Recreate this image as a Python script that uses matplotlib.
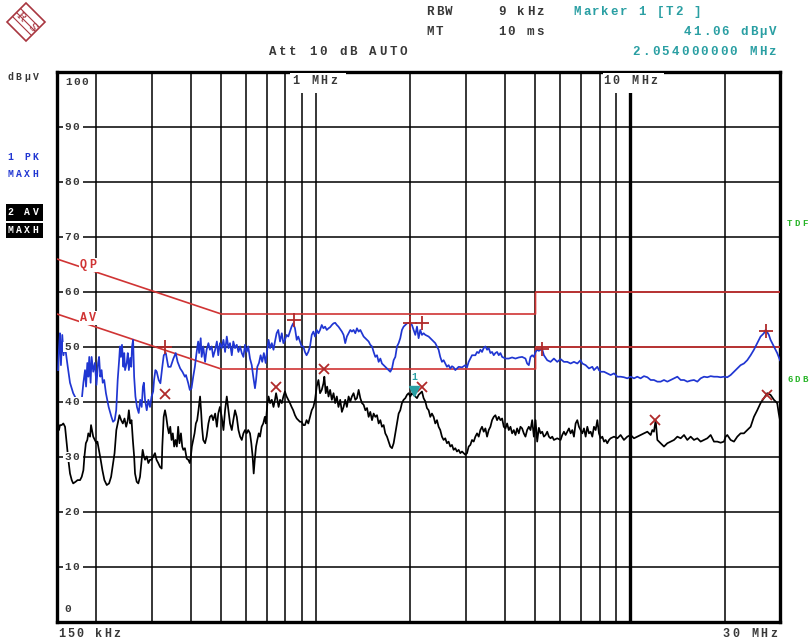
#!/usr/bin/env python3
"""Conducted emission scan 150 kHz - 30 MHz, peak and average traces with CISPR limits."""

import matplotlib
matplotlib.use("Agg")
import matplotlib.pyplot as plt
from matplotlib.patches import Polygon, Rectangle
from matplotlib.transforms import offset_copy

W, H = 811, 642

# trace 1: peak detector, max hold  (MHz, dBuV)
PK_TRACE = [
    (0.1512, 45.8), (0.1522, 49.5), (0.1533, 52.5), (0.1544, 46.7), (0.1559, 52.2), (0.1573, 48.5),
    (0.1591, 50.1), (0.1623, 46.4), (0.1650, 43.5), (0.1689, 41.6), (0.1731, 40.4), (0.1776, 39.8),
    (0.1798, 40.4), (0.1820, 43.5), (0.1842, 45.8), (0.1856, 42.8), (0.1873, 47.1), (0.1887, 44.6),
    (0.1900, 48.2), (0.1919, 43.5), (0.1933, 48.2), (0.1956, 45.5), (0.1980, 47.1), (0.2003, 43.1),
    (0.2027, 47.1), (0.2042, 48.2), (0.2060, 44.6), (0.2080, 45.8), (0.2097, 43.5), (0.2120, 44.0),
    (0.2147, 41.6), (0.2190, 39.1), (0.2235, 37.3), (0.2262, 36.4), (0.2290, 36.7), (0.2315, 38.5),
    (0.2340, 44.0), (0.2365, 47.6), (0.2380, 50.1), (0.2396, 48.2), (0.2415, 50.4), (0.2440, 46.4),
    (0.2455, 48.9), (0.2470, 45.8), (0.2500, 47.1), (0.2520, 48.9), (0.2540, 45.8), (0.2565, 48.0),
    (0.2585, 46.4), (0.2600, 50.1), (0.2620, 51.3), (0.2640, 44.6), (0.2665, 41.0), (0.2695, 39.1),
    (0.2730, 38.0), (0.2760, 40.4), (0.2790, 39.1), (0.2815, 42.8), (0.2835, 43.5), (0.2859, 40.4),
    (0.2895, 38.5), (0.2930, 40.4), (0.2965, 39.1), (0.3000, 41.0), (0.3035, 41.9), (0.3055, 44.0),
    (0.3085, 45.8), (0.3115, 45.5), (0.3160, 44.0), (0.3200, 43.4), (0.3245, 46.4), (0.3280, 48.5),
    (0.3330, 48.9), (0.3390, 46.4), (0.3450, 46.4), (0.3520, 47.9), (0.3580, 48.9), (0.3630, 47.3),
    (0.3700, 46.1), (0.3760, 45.5), (0.3830, 44.6), (0.3860, 44.9), (0.3925, 43.4), (0.3970, 42.2),
    (0.4020, 42.5), (0.4070, 44.6), (0.4120, 46.4), (0.4170, 48.9), (0.4220, 51.0), (0.4250, 48.9),
    (0.4300, 51.6), (0.4330, 48.2), (0.4380, 50.1), (0.4440, 47.3), (0.4490, 49.5), (0.4550, 50.7),
    (0.4600, 49.5), (0.4660, 50.1), (0.4710, 48.2), (0.4780, 49.5), (0.4840, 51.0), (0.4890, 48.5),
    (0.4950, 50.7), (0.5015, 49.8), (0.5080, 51.3), (0.5140, 49.1), (0.5205, 51.9), (0.5270, 49.8),
    (0.5330, 50.7), (0.5400, 48.5), (0.5460, 51.0), (0.5530, 49.8), (0.5600, 50.4), (0.5670, 49.1),
    (0.5740, 50.1), (0.5810, 48.9), (0.5880, 48.2), (0.5950, 50.4), (0.6020, 49.1), (0.6090, 50.1),
    (0.6170, 47.9), (0.6250, 46.7), (0.6320, 44.6), (0.6400, 42.5), (0.6450, 44.0), (0.6510, 46.4),
    (0.6590, 47.1), (0.6670, 48.5), (0.6750, 47.3), (0.6830, 48.9), (0.6920, 47.1), (0.7010, 49.8),
    (0.7070, 51.3), (0.7150, 49.8), (0.7240, 50.7), (0.7330, 49.5), (0.7410, 51.0), (0.7500, 52.5),
    (0.7590, 53.1), (0.7690, 51.0), (0.7790, 52.5), (0.7880, 50.7), (0.7970, 51.3), (0.8070, 52.2),
    (0.8170, 51.9), (0.8270, 52.8), (0.8370, 53.7), (0.8470, 54.3), (0.8580, 53.4), (0.8690, 51.3),
    (0.8790, 51.9), (0.8900, 51.0), (0.9010, 50.1), (0.9120, 50.1), (0.9230, 49.1), (0.9340, 48.5),
    (0.9460, 49.1), (0.9580, 50.1), (0.9700, 52.2), (0.9820, 52.8), (0.9940, 51.9), (1.006, 53.1),
    (1.019, 52.5), (1.031, 53.1), (1.044, 54.0), (1.057, 53.4), (1.070, 53.7), (1.083, 53.1),
    (1.097, 53.4), (1.110, 53.6), (1.124, 54.0), (1.138, 54.3), (1.152, 54.4), (1.166, 54.0),
    (1.180, 53.7), (1.210, 52.8), (1.225, 52.2), (1.240, 50.7), (1.255, 51.9), (1.271, 52.5),
    (1.287, 53.1), (1.302, 52.8), (1.318, 53.1), (1.335, 52.5), (1.351, 53.4), (1.368, 52.8),
    (1.385, 53.1), (1.402, 52.5), (1.419, 51.9), (1.437, 51.6), (1.455, 51.3), (1.472, 51.0),
    (1.490, 50.4), (1.509, 50.1), (1.527, 49.1), (1.546, 48.2), (1.565, 48.5), (1.584, 47.3),
    (1.604, 47.9), (1.623, 47.0), (1.643, 46.7), (1.663, 46.4), (1.684, 46.1), (1.704, 45.8),
    (1.725, 45.5), (1.747, 46.1), (1.768, 47.6), (1.790, 48.2), (1.812, 50.1), (1.834, 50.7),
    (1.856, 51.6), (1.879, 53.1), (1.902, 53.7), (1.926, 54.0), (1.950, 54.3), (1.973, 54.4),
    (1.997, 54.3), (2.022, 54.0), (2.047, 53.1), (2.072, 52.2), (2.098, 53.7), (2.123, 51.6),
    (2.149, 53.1), (2.176, 52.2), (2.202, 52.5), (2.230, 52.2), (2.285, 51.9), (2.341, 51.3),
    (2.399, 50.7), (2.458, 49.5), (2.488, 48.2), (2.519, 47.3), (2.550, 47.6), (2.581, 47.0),
    (2.613, 46.4), (2.645, 46.7), (2.678, 46.1), (2.711, 46.5), (2.744, 46.3), (2.778, 45.8),
    (2.812, 46.1), (2.847, 46.4), (2.918, 46.3), (2.990, 46.7), (3.027, 46.3), (3.064, 47.3),
    (3.102, 47.9), (3.140, 48.5), (3.218, 48.5), (3.258, 49.1), (3.298, 48.9), (3.338, 49.5),
    (3.379, 49.1), (3.421, 49.8), (3.463, 50.1), (3.506, 49.5), (3.549, 49.8), (3.593, 48.9),
    (3.637, 49.1), (3.682, 48.5), (3.727, 48.9), (3.773, 49.1), (3.820, 48.5), (3.867, 48.9),
    (3.915, 48.2), (4.012, 47.9), (4.111, 47.9), (4.213, 48.1), (4.317, 47.9), (4.424, 48.1),
    (4.533, 48.2), (4.645, 47.9), (4.703, 47.0), (4.761, 46.7), (4.820, 48.2), (4.880, 48.5),
    (4.940, 48.2), (5.001, 49.1), (5.062, 49.5), (5.125, 49.3), (5.188, 49.5), (5.252, 49.6),
    (5.317, 48.5), (5.449, 47.6), (5.584, 47.3), (5.722, 47.9), (5.864, 47.3), (6.009, 47.8),
    (6.158, 47.3), (6.311, 47.3), (6.467, 47.0), (6.627, 47.3), (6.792, 47.0), (6.960, 47.6),
    (7.046, 47.0), (7.220, 46.7), (7.399, 46.1), (7.582, 46.4), (7.675, 45.8), (7.866, 46.4),
    (7.962, 45.8), (8.06, 45.5), (8.26, 45.5), (8.46, 45.2), (8.67, 44.9), (8.89, 45.2),
    (9.11, 44.6), (9.33, 44.6), (9.56, 44.5), (9.80, 44.3), (10.04, 44.6), (10.29, 44.3),
    (10.54, 44.6), (10.80, 44.3), (11.07, 44.7), (11.35, 44.5), (11.63, 44.0), (11.91, 44.0),
    (12.21, 43.7), (12.51, 43.7), (12.82, 44.0), (13.14, 43.7), (13.46, 44.0), (13.80, 44.3),
    (14.14, 44.6), (14.49, 44.0), (14.85, 44.0), (15.21, 43.7), (15.59, 43.9), (15.97, 44.0),
    (16.37, 43.7), (16.77, 44.3), (17.19, 44.6), (17.61, 44.5), (18.05, 44.7), (18.49, 44.6),
    (18.95, 44.6), (19.42, 44.5), (19.90, 44.6), (20.39, 44.5), (20.89, 44.9), (21.41, 45.5),
    (21.94, 46.1), (22.48, 46.7), (23.03, 47.0), (23.60, 47.6), (24.19, 48.5), (24.78, 49.5),
    (25.39, 50.7), (26.02, 51.9), (26.66, 52.5), (26.99, 53.1), (27.32, 52.7), (27.65, 52.2),
    (27.99, 51.3), (28.69, 50.1), (29.39, 48.9), (30.0, 47.6),
]

# trace 2: average detector, max hold  (MHz, dBuV)
AV_TRACE = [
    (0.1500, 33.1), (0.1512, 35.5), (0.1522, 34.9), (0.1533, 35.8), (0.1552, 35.8), (0.1571, 36.1),
    (0.1591, 35.5), (0.1611, 32.5), (0.1630, 29.5), (0.1650, 27.0), (0.1671, 25.8), (0.1689, 25.2),
    (0.1719, 25.5), (0.1744, 25.8), (0.1776, 25.8), (0.1798, 26.4), (0.1820, 27.6), (0.1834, 30.1),
    (0.1853, 32.5), (0.1873, 33.1), (0.1887, 34.3), (0.1911, 33.7), (0.1925, 35.8), (0.1943, 34.6),
    (0.1956, 33.7), (0.1980, 33.1), (0.2003, 32.5), (0.2017, 32.8), (0.2035, 31.6), (0.2066, 29.5),
    (0.2092, 27.6), (0.2123, 25.8), (0.2160, 24.9), (0.2197, 25.2), (0.2230, 26.4), (0.2258, 28.5),
    (0.2287, 30.7), (0.2317, 34.9), (0.2340, 36.1), (0.2370, 37.6), (0.2400, 36.7), (0.2430, 36.1),
    (0.2460, 37.0), (0.2490, 35.5), (0.2520, 36.7), (0.2540, 38.5), (0.2565, 36.1), (0.2590, 36.7),
    (0.2615, 33.1), (0.2640, 30.1), (0.2657, 27.0), (0.2690, 25.5), (0.2722, 25.2), (0.2756, 26.4),
    (0.2790, 29.5), (0.2810, 31.3), (0.2837, 30.1), (0.2859, 29.5), (0.2895, 30.1), (0.2930, 28.9),
    (0.2965, 29.5), (0.3000, 29.5), (0.3035, 30.1), (0.3076, 30.7), (0.3110, 29.5), (0.3150, 28.9),
    (0.3190, 28.2), (0.3230, 27.9), (0.3245, 31.9), (0.3278, 37.3), (0.3310, 38.5), (0.3340, 37.3),
    (0.3373, 35.5), (0.3405, 34.3), (0.3440, 35.5), (0.3472, 33.1), (0.3505, 34.3), (0.3540, 31.9),
    (0.3575, 33.1), (0.3610, 31.9), (0.3645, 35.5), (0.3680, 32.5), (0.3720, 34.3), (0.3755, 31.9),
    (0.3785, 31.3), (0.3830, 31.6), (0.3880, 29.7), (0.3925, 29.5), (0.3970, 28.9), (0.4000, 30.1),
    (0.4030, 31.9), (0.4070, 33.1), (0.4110, 34.3), (0.4150, 36.1), (0.4190, 36.7), (0.4230, 38.5),
    (0.4280, 41.0), (0.4310, 38.5), (0.4340, 35.5), (0.4380, 33.1), (0.444, 32.5), (0.449, 33.7),
    (0.455, 36.1), (0.460, 37.3), (0.466, 37.6), (0.471, 36.7), (0.478, 37.9), (0.484, 35.5),
    (0.489, 37.9), (0.495, 39.1), (0.5015, 37.3), (0.508, 34.9), (0.514, 38.5), (0.5205, 41.0),
    (0.527, 38.5), (0.533, 36.1), (0.540, 34.9), (0.546, 36.7), (0.553, 38.5), (0.560, 37.3),
    (0.567, 34.9), (0.574, 33.7), (0.581, 33.1), (0.588, 34.3), (0.595, 34.9), (0.602, 34.3),
    (0.609, 34.9), (0.617, 34.3), (0.623, 32.5), (0.629, 30.1), (0.634, 27.0), (0.639, 29.5),
    (0.645, 31.9), (0.651, 33.1), (0.658, 34.3), (0.664, 33.7), (0.672, 35.5), (0.680, 36.1),
    (0.688, 37.3), (0.693, 36.1), (0.701, 39.8), (0.707, 41.0), (0.715, 39.8), (0.724, 40.4),
    (0.733, 39.1), (0.741, 40.4), (0.747, 41.6), (0.754, 40.4), (0.761, 39.1), (0.769, 40.4),
    (0.779, 39.8), (0.788, 41.0), (0.797, 41.9), (0.807, 41.0), (0.817, 40.4), (0.827, 39.8),
    (0.837, 39.1), (0.847, 38.5), (0.858, 37.6), (0.869, 37.0), (0.879, 36.7), (0.890, 36.4),
    (0.901, 36.4), (0.912, 35.8), (0.923, 35.8), (0.934, 36.7), (0.946, 36.1), (0.958, 37.3),
    (0.970, 38.5), (0.982, 39.1), (0.994, 40.4), (1.006, 42.8), (1.019, 44.0), (1.031, 41.6),
    (1.044, 42.2), (1.057, 43.4), (1.064, 44.6), (1.075, 41.6), (1.086, 42.8), (1.097, 41.0),
    (1.110, 42.2), (1.124, 40.4), (1.138, 41.6), (1.152, 39.8), (1.166, 41.0), (1.180, 39.1),
    (1.195, 40.4), (1.210, 38.2), (1.225, 39.1), (1.240, 40.4), (1.255, 39.1), (1.271, 41.0),
    (1.287, 40.1), (1.302, 41.0), (1.318, 41.6), (1.335, 40.4), (1.351, 40.7), (1.368, 42.2),
    (1.385, 40.7), (1.402, 39.8), (1.419, 39.5), (1.437, 38.5), (1.455, 38.9), (1.472, 37.3),
    (1.490, 38.2), (1.509, 36.7), (1.527, 37.9), (1.546, 37.3), (1.565, 37.6), (1.584, 36.1),
    (1.604, 36.7), (1.623, 35.5), (1.643, 35.8), (1.663, 34.3), (1.684, 33.7), (1.704, 32.8),
    (1.725, 31.9), (1.747, 31.6), (1.768, 32.5), (1.790, 34.3), (1.812, 36.1), (1.834, 37.9),
    (1.856, 38.5), (1.879, 39.8), (1.902, 40.4), (1.926, 40.7), (1.950, 41.3), (1.973, 41.6),
    (1.997, 41.0), (2.022, 41.6), (2.047, 41.3), (2.072, 41.0), (2.098, 40.7), (2.123, 41.3),
    (2.149, 41.6), (2.176, 41.9), (2.202, 40.7), (2.230, 40.1), (2.257, 38.9), (2.285, 38.5),
    (2.313, 37.3), (2.341, 37.9), (2.370, 37.3), (2.399, 36.1), (2.429, 36.7), (2.458, 35.5),
    (2.488, 34.9), (2.519, 33.7), (2.550, 33.1), (2.581, 33.4), (2.613, 32.5), (2.645, 32.8),
    (2.678, 31.9), (2.711, 32.2), (2.744, 31.3), (2.778, 31.6), (2.812, 31.0), (2.847, 31.3),
    (2.882, 30.7), (2.918, 31.0), (2.954, 30.7), (2.990, 30.4), (3.027, 30.7), (3.064, 31.9),
    (3.102, 32.2), (3.140, 33.1), (3.179, 32.8), (3.218, 33.7), (3.258, 34.3), (3.298, 33.7),
    (3.338, 34.9), (3.379, 35.5), (3.421, 34.6), (3.463, 35.2), (3.506, 33.7), (3.549, 34.9),
    (3.593, 35.5), (3.637, 36.7), (3.682, 37.3), (3.727, 37.6), (3.773, 36.7), (3.820, 37.3),
    (3.867, 36.7), (3.915, 37.0), (3.963, 35.5), (4.012, 35.2), (4.061, 36.1), (4.111, 34.9),
    (4.162, 35.5), (4.213, 34.3), (4.265, 34.9), (4.317, 34.0), (4.370, 35.2), (4.424, 34.3),
    (4.478, 35.5), (4.533, 35.2), (4.589, 34.3), (4.645, 33.7), (4.703, 34.9), (4.761, 35.5),
    (4.820, 34.9), (4.880, 36.7), (4.940, 33.7), (5.001, 36.7), (5.062, 32.8), (5.125, 35.3),
    (5.188, 34.3), (5.252, 34.6), (5.317, 33.7), (5.382, 34.0), (5.449, 34.6), (5.516, 33.7),
    (5.584, 33.4), (5.653, 33.7), (5.722, 33.1), (5.864, 33.4), (6.009, 33.1), (6.083, 34.0),
    (6.158, 34.6), (6.234, 34.0), (6.311, 34.6), (6.389, 35.2), (6.467, 34.3), (6.547, 34.9),
    (6.627, 33.7), (6.709, 36.1), (6.792, 36.7), (6.875, 35.5), (6.960, 34.9), (7.046, 34.3),
    (7.132, 35.2), (7.220, 33.7), (7.309, 35.5), (7.399, 34.3), (7.490, 34.6), (7.582, 33.7),
    (7.675, 35.5), (7.770, 34.9), (7.866, 36.7), (7.962, 34.3), (8.06, 33.4), (8.16, 33.7),
    (8.26, 32.8), (8.36, 33.1), (8.46, 32.5), (8.57, 33.1), (8.67, 33.4), (8.89, 33.7),
    (9.11, 33.4), (9.33, 34.0), (9.56, 33.1), (9.80, 33.7), (10.04, 34.0), (10.29, 33.4),
    (10.54, 33.7), (10.80, 34.0), (11.07, 34.3), (11.35, 34.6), (11.63, 34.0), (11.77, 34.9),
    (11.91, 34.6), (12.06, 36.7), (12.21, 33.1), (12.36, 32.8), (12.51, 32.5), (12.82, 31.9),
    (13.14, 32.5), (13.46, 32.8), (13.80, 33.1), (14.14, 33.7), (14.49, 33.4), (14.85, 34.0),
    (15.21, 33.1), (15.59, 33.7), (15.97, 33.1), (16.37, 33.4), (16.77, 32.8), (17.19, 33.1),
    (17.61, 33.4), (18.05, 34.0), (18.49, 32.8), (18.95, 32.8), (19.42, 32.6), (19.90, 32.8),
    (20.14, 33.7), (20.39, 34.0), (20.89, 33.1), (21.41, 32.8), (21.94, 33.7), (22.48, 34.3),
    (23.03, 34.3), (23.60, 34.9), (24.19, 35.5), (24.78, 37.3), (25.39, 38.5), (26.02, 39.8),
    (26.66, 40.7), (27.32, 41.6), (27.99, 41.3), (28.69, 40.4), (29.39, 39.8), (29.73, 37.9),
    (30.0, 36.7),
]

# EN 55022 class B limit lines
QP_LIMIT_MHZ = [0.15, 0.5, 5.0, 5.0, 30.0]
QP_LIMIT_DB = [66, 56, 56, 60, 60]
AV_LIMIT_MHZ = [0.15, 0.5, 5.0, 5.0, 30.0]
AV_LIMIT_DB = [56, 46, 46, 50, 50]

# peak list markers
PK_PEAKS = [(0.331, 50.0), (0.852, 54.9), (2.00, 54.4), (2.17, 54.4), (5.24, 49.6), (27.1, 53.0)]
AV_PEAKS = [(0.331, 41.4), (0.744, 42.8), (1.063, 46.0), (2.18, 42.7), (12.0, 36.8), (27.3, 41.3)]
MARKER_1 = (2.054, 41.06)

GRID_MHZ = [0.2, 0.3, 0.4, 0.5, 0.6, 0.7, 0.8, 0.9, 1, 2, 3, 4, 5, 6, 7, 8, 9, 10, 20]
LEVELS = [10, 20, 30, 40, 50, 60, 70, 80, 90]

TEXT = "#383838"
TEAL = "#2a9fa3"
BLUE = "#2036d2"
RED = "#d03434"
MARK_RED = "#b02a2a"
GREEN = "#27b427"

plt.rcParams["font.family"] = ["Liberation Mono", "DejaVu Sans Mono"]

fig = plt.figure(figsize=(W / 100, H / 100), dpi=100)
ax = fig.add_axes([57 / W, 1 - 622 / H, 723 / W, 550 / H])


def blank(x0, y0, x1, y1, color="white"):
    """Filled box in screen pixels (y down)."""
    fig.add_artist(Rectangle((x0 / W, 1 - y1 / H), (x1 - x0) / W, (y1 - y0) / H,
                             transform=fig.transFigure, facecolor=color,
                             edgecolor="none", zorder=2))


def put(x, y, s, size=9.0, color=TEXT, pitch=9.6, align="left"):
    """Fixed pitch text like the analyzer screen font."""
    if align == "right":
        x = x - pitch * len(s)
    for i, ch in enumerate(s):
        if ch == " ":
            continue
        fig.text((x + pitch * (i + 0.5)) / W, 1 - y / H, ch, ha="center", va="center",
                 fontsize=size, color=color, fontweight="bold", zorder=5)


# grid
for f in GRID_MHZ:
    ax.axvline(f, color="black", lw=2.4 if f == 10 else 1.1, zorder=1)
for lv in LEVELS:
    ax.axhline(lv, color="black", lw=1.1, zorder=1)

# limit lines
ax.plot(QP_LIMIT_MHZ, QP_LIMIT_DB, color=RED, lw=1.2, zorder=3)
ax.plot(AV_LIMIT_MHZ, AV_LIMIT_DB, color=RED, lw=1.2, zorder=3)

# traces
av_f, av_l = zip(*AV_TRACE)
pk_f, pk_l = zip(*PK_TRACE)
ax.plot(av_f, av_l, color="black", lw=1.25, zorder=4)
ax.plot(pk_f, pk_l, color=BLUE, lw=1.25, zorder=4)

# peak markers
ax.plot(*zip(*PK_PEAKS), ls="none", marker="+", ms=10, mew=1.3, color=MARK_RED, zorder=5)
ax.plot(*zip(*AV_PEAKS), ls="none", marker="x", ms=7, mew=1.3, color=MARK_RED, zorder=5)

# marker 1
lifted = offset_copy(ax.transData, fig=fig, x=0, y=5, units="dots")
ax.plot([MARKER_1[0]], [MARKER_1[1]], marker="v", ms=7, color=TEAL, transform=lifted, zorder=6)
ax.annotate("1", xy=MARKER_1, xytext=(0, 19), textcoords="offset pixels", ha="center",
            va="center", fontsize=7, color=TEAL, fontweight="bold", zorder=6)

ax.set_xscale("log")
ax.set_xlim(0.15, 30)
ax.set_ylim(0, 100)
ax.set_xticks([])
ax.set_yticks([])
ax.minorticks_off()
for sp in ax.spines.values():
    sp.set_linewidth(2.4)
    sp.set_color("black")

# level labels on the grid
for lv in LEVELS:
    yp = 622 - lv * 5.5
    blank(63, yp - 5, 83, yp + 5)
    put(64, yp, str(lv), size=8, pitch=8)
put(65, 82, "100", size=8, pitch=8)
put(64, 609, "0", size=8, pitch=8)

# decade labels break the grid lines
blank(290, 73, 346, 93)
put(291, 81, "1 MHz", size=8.5, pitch=9.4)
blank(603, 73, 664, 93)
put(602, 81, "10 MHz", size=8.5, pitch=9.4)

# limit line names
blank(79, 258, 99, 272)
put(79, 265, "QP", size=8.5, color=RED, pitch=9)
blank(79, 311, 99, 325)
put(79, 318, "AV", size=8.5, color=RED, pitch=9)

# header
put(425, 12, "RBW")
put(497, 12, "9 kHz")
put(573, 12, "Marker 1 [T2 ]", color=TEAL, pitch=9.2)
put(425, 32, "MT")
put(497, 32, "10 ms")
put(777, 32, "41.06 dBµV", color=TEAL, align="right", pitch=9.4)
put(268, 52, "Att 10 dB AUTO", pitch=10)
put(777, 52, "2.054000000 MHz", color=TEAL, align="right", pitch=9.7)

# trace info on the left
put(6, 77, "dBµV", size=7, pitch=8.5)
put(6, 157, "1 PK", size=7, color=BLUE, pitch=8.5)
put(6, 174, "MAXH", size=7, color=BLUE, pitch=8.5)
blank(6, 204, 43, 221, color="black")
put(6, 212, "2 AV", size=7, color="white", pitch=8.5)
blank(6, 223, 43, 238, color="black")
put(6, 230, "MAXH", size=7, color="white", pitch=8.5)

# right side
put(786, 224, "TDF", size=6.5, color=GREEN, pitch=7.5)
put(786, 380, "6DB", size=6.5, color=GREEN, pitch=7.5)

# frequency span
put(57, 634, "150 kHz", size=8.5, pitch=9.2)
put(778, 634, "30 MHz", size=8.5, pitch=9.4, align="right")

# R&S logo
logo = "#a83640"
cx, cy, r = 26, 22, 19
fig.add_artist(Polygon([((cx) / W, 1 - (cy - r) / H), ((cx + r) / W, 1 - cy / H),
                        (cx / W, 1 - (cy + r) / H), ((cx - r) / W, 1 - cy / H)],
                       closed=True, fill=False, edgecolor=logo, lw=1.2,
                       transform=fig.transFigure, zorder=3))
for d in (-4, 0, 4):
    fig.add_artist(plt.Line2D([(cx - 9 + d) / W, (cx + 9 + d) / W],
                              [1 - (cy - 9 - d) / H, 1 - (cy + 9 - d) / H],
                              color=logo, lw=0.8, transform=fig.transFigure, zorder=3))
fig.text((cx - 6) / W, 1 - (cy - 5) / H, "R", ha="center", va="center", fontsize=8,
         color=logo, rotation=-45, family="DejaVu Serif")
fig.text((cx + 6) / W, 1 - (cy + 6) / H, "S", ha="center", va="center", fontsize=8,
         color=logo, rotation=-45, family="DejaVu Serif")

fig.savefig("out.png", dpi=100)
